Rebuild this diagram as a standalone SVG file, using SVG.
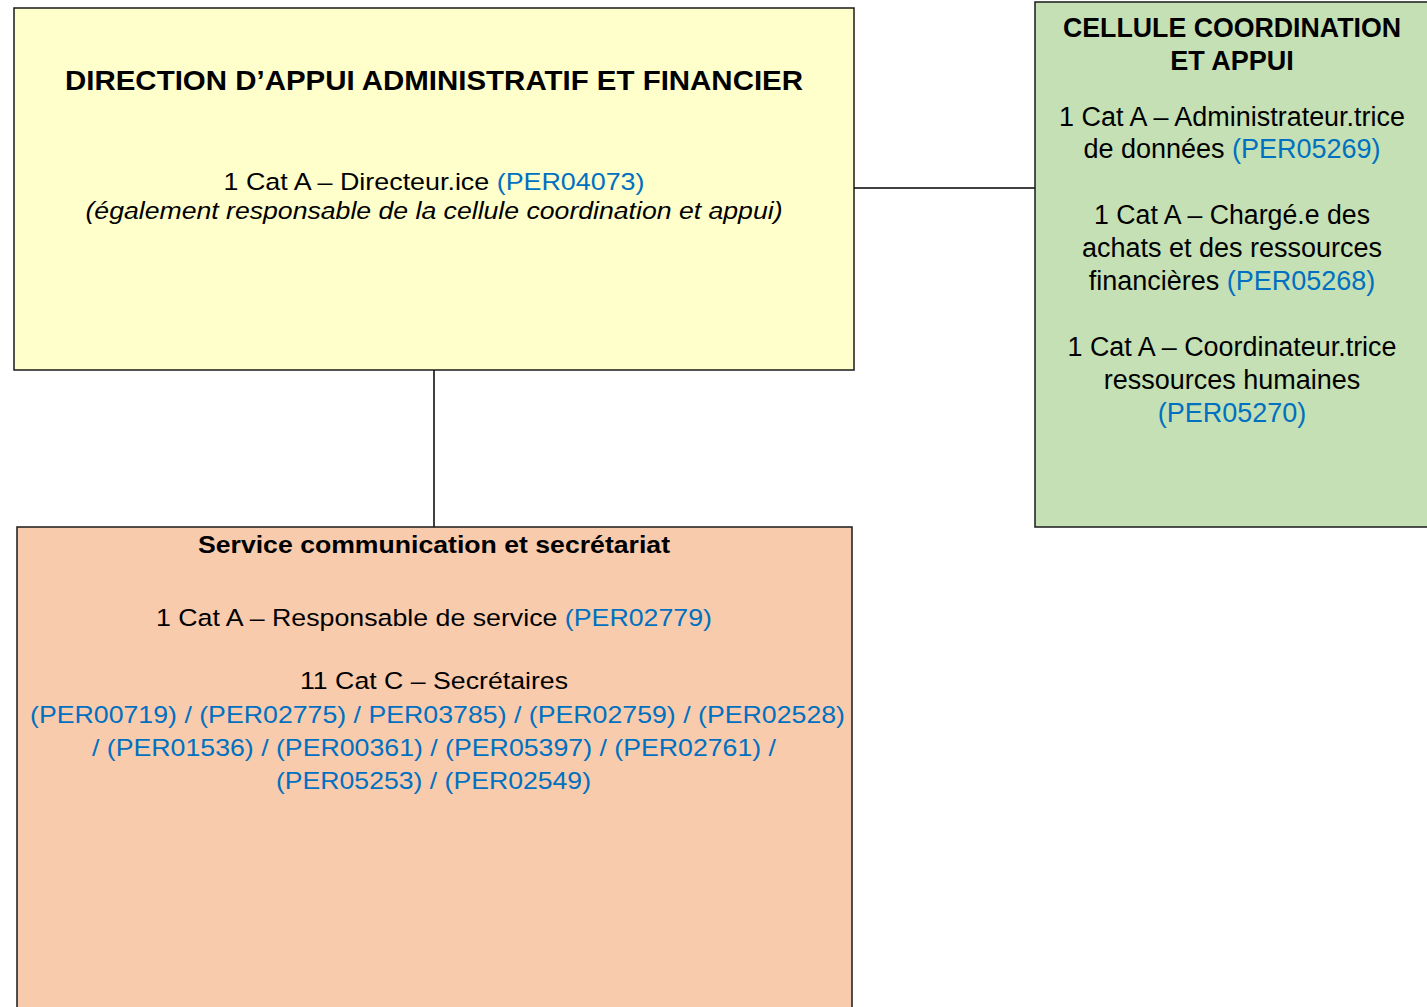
<svg xmlns="http://www.w3.org/2000/svg" width="1427" height="1007" viewBox="0 0 1427 1007">
<style>
.box{stroke:#1a1a1a;stroke-width:1.5}
.t{font-family:"Liberation Sans",Arial,sans-serif;fill:#000;text-anchor:middle}
.b{font-weight:bold}
.i{font-style:italic}
.blue{fill:#0070C0}
.g{font-size:27px}
.con{stroke:#000;stroke-width:1.5;fill:none}
</style>
<rect width="1427" height="1007" fill="#ffffff"/>
<g id="connectors">
<line class="con" x1="854" y1="188" x2="1035" y2="188"/>
<line class="con" x1="434" y1="370" x2="434" y2="527"/>
</g>
<g id="node-direction">
<rect class="box" x="14" y="8" width="840" height="362" fill="#FFFFCC"/>
<text class="t b" x="434" y="90" font-size="28" textLength="738" lengthAdjust="spacingAndGlyphs">DIRECTION D’APPUI ADMINISTRATIF ET FINANCIER</text>
<text class="t" x="434" y="190" font-size="24.5" textLength="421" lengthAdjust="spacingAndGlyphs">1 Cat A – Directeur.ice <tspan class="blue">(PER04073)</tspan></text>
<text class="t i" x="434" y="219" font-size="24.5" textLength="697" lengthAdjust="spacingAndGlyphs">(également responsable de la cellule coordination et appui)</text>
</g>
<g id="node-cellule">
<rect class="box" x="1035" y="2" width="400" height="525" fill="#C5E0B4"/>
<text class="t b g" x="1232" y="37" textLength="338" lengthAdjust="spacingAndGlyphs">CELLULE COORDINATION</text>
<text class="t b g" x="1232" y="70">ET APPUI</text>
<text class="t g" x="1232" y="126" textLength="346" lengthAdjust="spacingAndGlyphs">1 Cat A – Administrateur.trice</text>
<text class="t g" x="1232" y="158">de données <tspan class="blue">(PER05269)</tspan></text>
<text class="t g" x="1232" y="224" textLength="276" lengthAdjust="spacingAndGlyphs">1 Cat A – Chargé.e des</text>
<text class="t g" x="1232" y="257">achats et des ressources</text>
<text class="t g" x="1232" y="290">financières <tspan class="blue">(PER05268)</tspan></text>
<text class="t g" x="1232" y="356" textLength="329" lengthAdjust="spacingAndGlyphs">1 Cat A – Coordinateur.trice</text>
<text class="t g" x="1232" y="389">ressources humaines</text>
<text class="t blue g" x="1232" y="422">(PER05270)</text>
</g>
<g id="node-service">
<rect class="box" x="17" y="527" width="835" height="490" fill="#F8CBAD"/>
<text class="t b" x="434" y="553" font-size="24.5" textLength="472" lengthAdjust="spacingAndGlyphs">Service communication et secrétariat</text>
<text class="t" x="434" y="626" font-size="24.5" textLength="556" lengthAdjust="spacingAndGlyphs">1 Cat A – Responsable de service <tspan class="blue">(PER02779)</tspan></text>
<text class="t" x="434" y="689" font-size="24.5" textLength="268" lengthAdjust="spacingAndGlyphs">11 Cat C – Secrétaires</text>
<text class="t blue" x="437.5" y="723" font-size="24.5" textLength="815" lengthAdjust="spacingAndGlyphs">(PER00719) / (PER02775) / PER03785) / (PER02759) / (PER02528)</text>
<text class="t blue" x="434" y="756" font-size="24.5" textLength="684" lengthAdjust="spacingAndGlyphs">/ (PER01536) / (PER00361) / (PER05397) / (PER02761) /</text>
<text class="t blue" x="433.5" y="789" font-size="24.5" textLength="315" lengthAdjust="spacingAndGlyphs">(PER05253) / (PER02549)</text>
</g>
</svg>
